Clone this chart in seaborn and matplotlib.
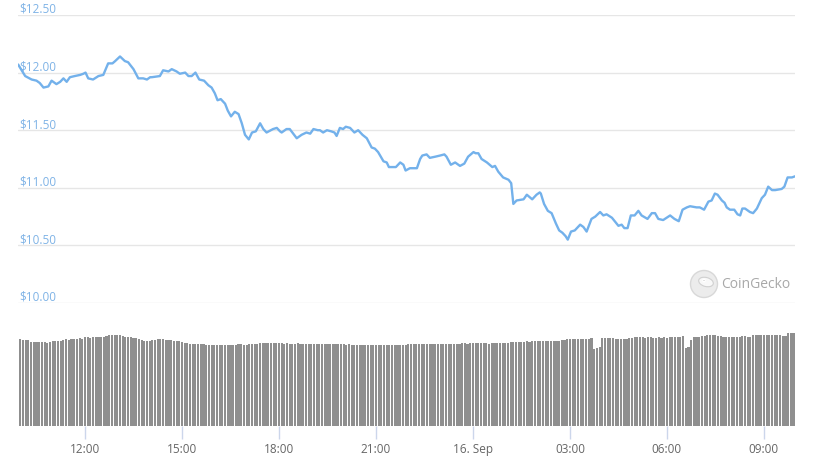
import numpy as np
import pandas as pd
import seaborn as sns
import matplotlib.pyplot as plt
from matplotlib.patches import Circle, Ellipse

# --- price line (time of day, USD) ---
price_times = [
    "09:56", "10:09", "10:21", "10:30", "10:36", "10:43", "10:52", "10:58", "11:07", "11:14",
    "11:20", "11:26", "11:32", "11:41", "11:51", "11:57", "12:01", "12:06", "12:15", "12:25",
    "12:34", "12:43", "12:51", "12:56", "13:05", "13:14", "13:20", "13:30", "13:39", "13:48",
    "13:55", "14:01", "14:04", "14:19", "14:25", "14:35", "14:41", "14:50", "14:56", "15:06",
    "15:12", "15:18", "15:25", "15:32", "15:41", "15:49", "15:55", "16:01", "16:06", "16:12",
    "16:20", "16:25", "16:31", "16:38", "16:45", "16:51", "16:57", "17:04", "17:10", "17:17",
    "17:25", "17:31", "17:37", "17:49", "17:56", "18:02", "18:05", "18:14", "18:20", "18:33",
    "18:42", "18:51", "18:58", "19:04", "19:12", "19:16", "19:22", "19:29", "19:37", "19:43",
    "19:47", "19:53", "19:59", "20:04", "20:12", "20:20", "20:27", "20:35", "20:43", "20:52",
    "20:58", "21:04", "21:14", "21:20", "21:24", "21:32", "21:37", "21:45", "21:51", "21:55",
    "22:03", "22:16", "22:22", "22:26", "22:34", "22:40", "22:50", "22:59", "23:07", "23:11",
    "23:19", "23:27", "23:36", "23:44", "23:51", "00:01", "00:05", "00:10", "00:16", "00:26",
    "00:36", "00:41", "00:47", "00:56", "01:06", "01:11", "01:15", "01:21", "01:34", "01:40",
    "01:50", "01:58", "02:04", "02:06", "02:12", "02:19", "02:26", "02:34", "02:40", "02:46",
    "02:52", "02:56", "03:02", "03:09", "03:19", "03:25", "03:31", "03:40", "03:47", "03:56",
    "04:02", "04:08", "04:18", "04:30", "04:36", "04:41", "04:47", "04:53", "05:00", "05:07",
    "05:13", "05:24", "05:32", "05:38", "05:44", "05:53", "06:06", "06:14", "06:22", "06:29",
    "06:37", "06:43", "06:55", "07:01", "07:09", "07:17", "07:23", "07:29", "07:34", "07:42",
    "07:47", "07:51", "07:57", "08:05", "08:11", "08:16", "08:20", "08:25", "08:34", "08:40",
    "08:47", "08:56", "09:02", "09:08", "09:15", "09:21", "09:33", "09:38", "09:44", "09:52",
    "09:58",
]
price_usd = [
    12.07, 11.97, 11.94, 11.93, 11.91, 11.87, 11.88, 11.93, 11.90, 11.92,
    11.95, 11.92, 11.96, 11.97, 11.98, 11.99, 12.00, 11.95, 11.94, 11.97,
    11.98, 12.08, 12.08, 12.10, 12.14, 12.10, 12.09, 12.03, 11.95, 11.95,
    11.94, 11.96, 11.96, 11.97, 12.02, 12.01, 12.03, 12.01, 11.99, 12.00,
    11.97, 11.97, 12.00, 11.94, 11.93, 11.89, 11.87, 11.82, 11.76, 11.77,
    11.73, 11.67, 11.62, 11.66, 11.64, 11.56, 11.46, 11.42, 11.48, 11.49,
    11.56, 11.51, 11.48, 11.51, 11.52, 11.49, 11.48, 11.51, 11.51, 11.43,
    11.46, 11.48, 11.47, 11.51, 11.50, 11.50, 11.48, 11.50, 11.49, 11.48,
    11.45, 11.52, 11.51, 11.53, 11.52, 11.48, 11.50, 11.46, 11.43, 11.35,
    11.34, 11.31, 11.23, 11.22, 11.18, 11.18, 11.18, 11.22, 11.20, 11.15,
    11.17, 11.17, 11.25, 11.28, 11.29, 11.26, 11.27, 11.28, 11.29, 11.27,
    11.20, 11.22, 11.19, 11.21, 11.27, 11.31, 11.30, 11.30, 11.25, 11.22,
    11.18, 11.19, 11.14, 11.09, 11.07, 11.04, 10.86, 10.89, 10.90, 10.94,
    10.90, 10.94, 10.96, 10.95, 10.86, 10.80, 10.78, 10.69, 10.63, 10.61,
    10.58, 10.55, 10.62, 10.63, 10.68, 10.66, 10.62, 10.73, 10.75, 10.79,
    10.76, 10.77, 10.74, 10.67, 10.68, 10.65, 10.65, 10.76, 10.76, 10.80,
    10.76, 10.73, 10.78, 10.78, 10.73, 10.72, 10.76, 10.73, 10.71, 10.81,
    10.83, 10.84, 10.83, 10.83, 10.81, 10.88, 10.89, 10.95, 10.94, 10.89,
    10.87, 10.83, 10.81, 10.81, 10.77, 10.76, 10.82, 10.82, 10.79, 10.78,
    10.82, 10.91, 10.94, 11.01, 10.98, 10.98, 10.99, 11.01, 11.09, 11.09,
    11.10,
]

# --- volume bars, one every 5 minutes from 10:00 (millions USD) ---
volume_musd = [
    43.5, 43.4, 43.4, 43.2, 42.4, 42.0, 42.0, 42.1, 42.0, 42.0, 41.9, 42.2,
    42.8, 42.8, 42.9, 42.7, 43.3, 43.5, 43.4, 43.6, 43.7, 43.5, 44.0, 43.8,
    44.5, 44.6, 44.3, 44.7, 44.8, 44.5, 44.6, 44.9, 45.3, 45.6, 45.5, 45.6,
    45.7, 45.6, 45.2, 44.7, 44.5, 44.6, 44.3, 44.2, 43.6, 43.2, 42.9, 42.7,
    42.8, 43.0, 43.3, 43.5, 43.5, 43.5, 43.4, 43.3, 43.0, 42.8, 42.9, 42.6,
    42.2, 41.9, 41.6, 41.4, 41.3, 41.2, 41.0, 41.0, 41.1, 40.9, 40.8, 40.7,
    40.6, 40.9, 40.9, 40.9, 40.8, 40.7, 40.6, 40.8, 40.9, 41.0, 41.0, 40.9,
    40.9, 41.3, 41.4, 41.3, 41.4, 41.5, 41.6, 41.6, 41.6, 41.6, 41.7, 41.7,
    41.6, 41.6, 41.4, 41.6, 41.4, 41.3, 41.4, 41.6, 41.4, 41.3, 41.4, 41.3,
    41.2, 41.3, 41.3, 41.2, 41.1, 41.2, 41.0, 41.1, 41.0, 41.1, 41.0, 41.0,
    41.0, 40.9, 41.0, 40.8, 40.9, 40.9, 40.8, 40.7, 40.8, 40.7, 40.7, 40.6,
    40.6, 40.5, 40.6, 40.5, 40.6, 40.5, 40.6, 40.7, 40.8, 40.8, 40.9, 40.8,
    41.0, 41.0, 41.1, 41.0, 41.2, 41.2, 41.1, 41.3, 41.3, 41.2, 41.3, 41.3,
    41.3, 41.3, 41.2, 41.3, 41.3, 41.4, 41.3, 41.4, 41.5, 41.5, 41.4, 41.5,
    41.5, 41.5, 41.6, 41.5, 41.6, 41.6, 41.4, 41.6, 41.6, 41.6, 41.6, 41.7,
    41.6, 41.8, 42.0, 42.1, 42.3, 42.4, 42.4, 42.3, 42.5, 42.3, 42.5, 42.6,
    42.6, 42.5, 42.6, 42.6, 42.6, 42.6, 42.6, 42.7, 42.6, 43.0, 43.4, 43.6,
    43.6, 43.7, 43.7, 43.7, 43.7, 43.6, 43.6, 43.6, 44.1, 38.7, 39.2, 39.5,
    44.1, 44.1, 44.1, 44.1, 44.0, 43.7, 43.6, 43.6, 43.8, 43.9, 44.1, 44.2,
    44.5, 44.6, 44.6, 44.6, 44.4, 44.6, 44.6, 44.4, 44.3, 44.5, 44.4, 44.5,
    44.4, 44.7, 44.6, 44.5, 44.8, 44.9, 45.2, 39.1, 39.5, 43.0, 44.5, 44.7,
    44.8, 45.0, 45.0, 45.6, 45.7, 45.6, 45.7, 45.2, 45.0, 44.9, 44.7, 44.6,
    44.7, 44.6, 44.5, 44.8, 45.2, 45.0, 44.6, 44.9, 45.6, 45.5, 45.6, 45.8,
    45.7, 45.5, 45.7, 45.6, 45.9, 45.6, 45.6, 45.3, 45.2, 46.6, 46.6, 46.6,
]

price_levels = [10.0, 10.5, 11.0, 11.5, 12.0, 12.5]
tick_hours = [12, 15, 18, 21, 24, 27, 30, 33]
tick_labels = ["12:00", "15:00", "18:00", "21:00", "16. Sep", "03:00", "06:00", "09:00"]

# --- convert times to hours since 15 Sep 00:00 ---
t = pd.to_datetime(price_times, format="%H:%M")
hours = (t.hour + t.minute / 60).to_numpy(dtype=float)
day = np.concatenate([[0], np.cumsum(np.diff(hours) < 0)])
price_df = pd.DataFrame({"hour": hours + 24 * day, "price": price_usd})

vol_df = pd.DataFrame({
    "hour": 10 + np.arange(len(volume_musd)) * 5 / 60,
    "volume": volume_musd,
})

sns.set_theme(style="white")
plt.rcParams["font.family"] = ["Open Sans", "DejaVu Sans"]

LINE = "#73b1eb"
BAR = "#8f8f8f"
GRID = "#e6e6e6"
xlim = (9.928, 33.962)

fig = plt.figure(figsize=(8.14, 4.6), dpi=100)
ax1 = fig.add_axes([18 / 814, 156 / 460, 777 / 814, 288 / 460])
ax2 = fig.add_axes([18 / 814, 32.7 / 460, 777 / 814, 108 / 460])

# price panel
sns.lineplot(data=price_df, x="hour", y="price", ax=ax1, color=LINE, linewidth=1.7)
ax1.set_xlim(xlim)
ax1.set_ylim(10.0, 12.5)
ax1.set_yticks(price_levels)
ax1.set_yticklabels([])
ax1.set_xticks([])
ax1.tick_params(length=0)
ax1.grid(axis="y", color=GRID, linewidth=1)
ax1.set_axisbelow(True)
ax1.set_xlabel("")
ax1.set_ylabel("")
ax1.patch.set_alpha(0)
for s in ax1.spines.values():
    s.set_visible(False)
for lv in price_levels:
    ax1.text(0.001, lv, f"${lv:.2f}", transform=ax1.get_yaxis_transform(),
             ha="left", va="bottom", fontsize=8.5, color="#7fb3e6", zorder=1)

# watermark (drawn in inches so the circle stays round)
tr = fig.dpi_scale_trans
fig.patches.append(Circle((7.04, 1.75), 0.135, transform=tr,
                          facecolor="#ececec", edgecolor="#d8d8d8", linewidth=1))
fig.patches.append(Ellipse((7.06, 1.77), 0.15, 0.09, angle=-15, transform=tr,
                           facecolor="#f8f8f8", edgecolor="#d0d0d0", linewidth=0.8))
fig.patches.append(Circle((7.04, 1.785), 0.012, transform=tr, facecolor="#b0b0b0"))
fig.text(721 / 814, (460 - 285) / 460, "CoinGecko", ha="left", va="center",
         fontsize=10, color="#a8a8a8")

# volume panel
sns.barplot(data=vol_df, x="hour", y="volume", ax=ax2, native_scale=True,
            color=BAR, saturation=1, width=0.78, errorbar=None, linewidth=0)
ax2.set_xlim(xlim)
ax2.set_ylim(0, 54)
ax2.set_yticks([])
ax2.set_xticks(tick_hours)
ax2.set_xticklabels(tick_labels)
ax2.tick_params(axis="x", length=9, width=1, color="#ccd6eb", labelsize=8.5,
                labelcolor="#666666", pad=2, bottom=True)
ax2.set_xlabel("")
ax2.set_ylabel("")
for s in ax2.spines.values():
    s.set_visible(False)

fig.savefig("out.png", dpi=100)
